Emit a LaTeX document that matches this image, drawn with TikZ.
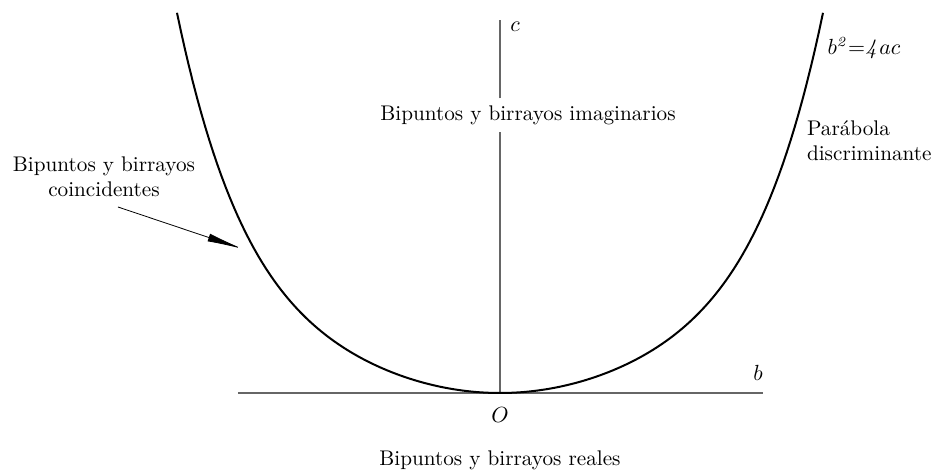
\documentclass[tikz,border=0pt]{standalone}
\usetikzlibrary{arrows.meta}
\begin{document}
\begin{tikzpicture}[
    x=0.5pt, y=0.5pt,
    axis/.style={draw=black!60, line width=0.7pt},
    curve/.style={line width=1pt},
    every node/.style={font=\fontsize{10.6pt}{12.6pt}\selectfont},
    >={Latex[length=18pt,width=4pt]}
]
  \useasboundingbox (-500,-77) rectangle (433,393);

  % nodes
  \coordinate (O) at (0,0);
  \coordinate (bl) at (-262,0);
  \coordinate (br) at (263,0);
  \coordinate (ctop) at (0,373);
  \node (imag) at (28,278) {Bipuntos y birrayos imaginarios};
  \node (clab) at (15,366) {$c$};
  \node (blab) at (258,20) {$b$};
  \node (Olab) at (0,-22) {$O$};
  \node (real) at (0,-67) {Bipuntos y birrayos reales};
  \node (eq) at (364,345) {$b^{\mathit{2}}{=}\mathit{4}ac$};
  \node[align=left, anchor=west] (parab) at (300,252) {Parábola\\discriminante};
  \node[align=center] (coinc) at (-396,216) {Bipuntos y birrayos\\coincidentes};
  \coordinate (tail) at (-382,186);
  \coordinate (tip) at (-257,144);

  % axes
  \draw[axis] (bl) -- (br);
  \draw[axis] (O) -- (imag.south -| O);
  \draw[axis] (imag.north -| O) -- (ctop);

  % parabola
  \draw[curve] plot[domain=-323:323, samples=161]
    (\x, {17.5*(\x/100)^2 + 0.174*(\x/100)^6});

  % arrow
  \draw[->] (tail) -- (tip);
\end{tikzpicture}
\end{document}
